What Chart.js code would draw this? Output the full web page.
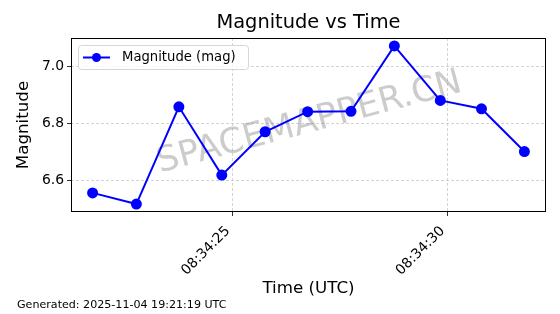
<!DOCTYPE html>
<html>
<head>
<meta charset="utf-8">
<script src="https://cdn.jsdelivr.net/npm/chart.js@4"></script>
<style>
  html, body { margin: 0; padding: 0; background: #fff; }
  #wrap { width: 560px; height: 314px; position: relative; }
</style>
</head>
<body>
<div id="wrap"><canvas id="magChart"></canvas></div>
<script>
// observation times (UTC) and magnitudes
const times = ['08:34:21.73', '08:34:22.75', '08:34:23.74', '08:34:24.74', '08:34:25.75', '08:34:26.74',
               '08:34:27.75', '08:34:28.76', '08:34:29.83', '08:34:30.79', '08:34:31.79'];
const magnitudes = [6.558, 6.519, 6.858, 6.620, 6.771, 6.841, 6.842, 7.070, 6.880, 6.851, 6.702];
const xTickLabels = ['08:34:25', '08:34:30'];
const yTicks = [6.6, 6.8, 7.0];

const FONT = "'DejaVu Sans', sans-serif";

function toSec(s) {
  const p = s.split(':');
  return (+p[0]) * 3600 + (+p[1]) * 60 + parseFloat(p[2]);
}
function fmt(sec) {
  const h = Math.floor(sec / 3600), m = Math.floor((sec % 3600) / 60), s = Math.round(sec % 60);
  return [h, m, s].map(v => String(v).padStart(2, '0')).join(':');
}

const xs = times.map(toSec);
const points = xs.map((x, i) => ({ x: x, y: magnitudes[i] }));

// matplotlib style 5% margins
const xMin = Math.min(...xs), xMax = Math.max(...xs);
const yMin = Math.min(...magnitudes), yMax = Math.max(...magnitudes);
const xPad = (xMax - xMin) * 0.05, yPad = (yMax - yMin) * 0.05;

const extras = {
  id: 'extras',
  beforeDatasetsDraw(chart) {
    const { ctx, chartArea: a } = chart;
    ctx.save();
    ctx.translate((a.left + a.right) / 2 + 1, (a.top + a.bottom) / 2 - 2);
    ctx.rotate(-15 * Math.PI / 180);
    ctx.font = '35px ' + FONT;
    ctx.fillStyle = 'rgba(128,128,128,0.4)';
    ctx.textAlign = 'center';
    ctx.textBaseline = 'middle';
    ctx.fillText('SPACEMAPPER.CN', 0, 0);
    ctx.restore();
  },
  afterDraw(chart) {
    const { ctx, chartArea: a } = chart;
    const ds = chart.data.datasets[0];
    ctx.save();
    // frame
    ctx.strokeStyle = '#000';
    ctx.lineWidth = 1;
    ctx.strokeRect(Math.round(a.left) + 0.5, Math.round(a.top) + 0.5,
                   Math.round(a.right - a.left) - 1, Math.round(a.bottom - a.top) - 1);
    // title
    ctx.fillStyle = '#000';
    ctx.font = '19.4px ' + FONT;
    ctx.textAlign = 'center';
    ctx.textBaseline = 'middle';
    ctx.fillText('Magnitude vs Time', (a.left + a.right) / 2, 23);
    // footer
    ctx.font = '11.1px ' + FONT;
    ctx.textAlign = 'left';
    ctx.fillText('Generated: 2025-11-04 19:21:19 UTC', 17, 305);
    // legend
    const lx = a.left + 7, ly = a.top + 7, lw = 170, lh = 24;
    ctx.beginPath();
    ctx.roundRect(lx + 0.5, ly + 0.5, lw, lh, 3);
    ctx.fillStyle = 'rgba(255,255,255,0.8)';
    ctx.fill();
    ctx.strokeStyle = '#d6d6d6';
    ctx.stroke();
    const cy = ly + lh / 2 + 0.5;
    ctx.beginPath();
    ctx.moveTo(lx + 5, cy);
    ctx.lineTo(lx + 32, cy);
    ctx.strokeStyle = ds.borderColor;
    ctx.lineWidth = ds.borderWidth;
    ctx.stroke();
    ctx.beginPath();
    ctx.arc(lx + 18.5, cy, ds.pointRadius, 0, Math.PI * 2);
    ctx.fillStyle = ds.pointBackgroundColor;
    ctx.fill();
    ctx.fillStyle = '#000';
    ctx.font = '13.2px ' + FONT;
    ctx.textBaseline = 'middle';
    ctx.fillText(ds.label, lx + 44, cy);
    ctx.restore();
  }
};

const gridOpts = { color: '#c8c8c8', tickColor: '#000', tickBorderDash: [], tickLength: 4, lineWidth: 0.8 };

new Chart(document.getElementById('magChart'), {
  type: 'line',
  data: {
    datasets: [{
      label: 'Magnitude (mag)',
      data: points,
      borderColor: '#0000ff',
      backgroundColor: '#0000ff',
      pointBackgroundColor: '#0000ff',
      pointBorderColor: '#0000ff',
      borderWidth: 2,
      pointRadius: 4.5,
      pointHoverRadius: 4.5,
      tension: 0
    }]
  },
  options: {
    responsive: true,
    maintainAspectRatio: false,
    animation: false,
    events: [],
    layout: { padding: { top: 38, right: 14, left: 0, bottom: 0 } },
    plugins: { legend: { display: false }, tooltip: { enabled: false }, title: { display: false } },
    scales: {
      x: {
        type: 'linear',
        min: xMin - xPad,
        max: xMax + xPad,
        afterBuildTicks: s => { s.ticks = xTickLabels.map(t => ({ value: toSec(t) })); },
        afterFit: s => { s.height = 102; },
        ticks: {
          callback: v => fmt(v),
          color: '#000',
          font: { family: FONT, size: 13.9 },
          maxRotation: 45, minRotation: 45,
          padding: 7,
          labelOffset: -5
        },
        grid: gridOpts,
        border: { display: false, dash: [3, 2] },
        title: { display: true, text: 'Time (UTC)', color: '#000', font: { family: FONT, size: 16.7 }, padding: { top: 0, bottom: 15 } }
      },
      y: {
        min: yMin - yPad,
        max: yMax + yPad,
        afterBuildTicks: s => { s.ticks = yTicks.map(v => ({ value: v })); },
        afterFit: s => { s.width = 71; },
        ticks: {
          callback: v => v.toFixed(1),
          color: '#000',
          font: { family: FONT, size: 13.9 },
          padding: 3
        },
        grid: gridOpts,
        border: { display: false, dash: [3, 2] },
        title: { display: true, text: 'Magnitude', color: '#000', font: { family: FONT, size: 16.7 }, padding: { top: 14, bottom: 0 } }
      }
    }
  },
  plugins: [extras]
});
</script>
</body>
</html>
